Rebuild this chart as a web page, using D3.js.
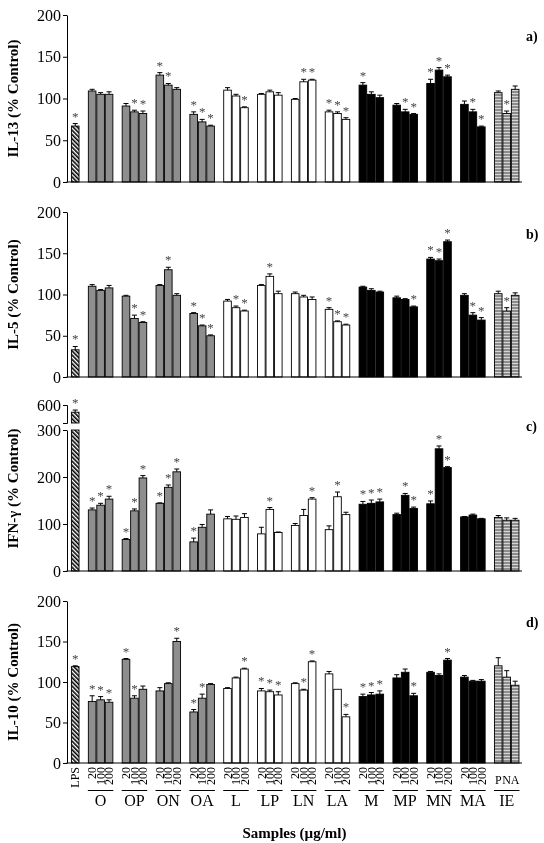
<!DOCTYPE html>
<html>
<head>
<meta charset="utf-8">
<script src="https://cdn.jsdelivr.net/npm/d3@7"></script>
<style>
body{margin:0;background:#fff;}
svg{filter:grayscale(1);}
text{font-family:"Liberation Serif","Times New Roman",serif;}
</style>
</head>
<body>
<div class="chart"></div>
<script>
//sample groups and doses
var groups = ["O","OP","ON","OA","L","LP","LN","LA","M","MP","MN","MA","IE"];
var doses = ["20","100","200"];
var ieParts = ["P","N","A"];

//values: LPS first, then 3 per group (20,100,200)
var il13 = [67, 109,105,105, 91,84,82, 128,116,111, 81,72,67, 110,103,89, 105,108,104, 99,120,122, 84,82,75, 116,105,101, 92,84,81, 118,134,126, 93,84,66, 107,82,111];
var il13Err = [3, 2,2,3, 3,2,3, 3,2,2, 3,3,1, 3,2,1, 1,2,3, 1,3,1, 2,2,2, 3,3,3, 2,3,1, 5,3,2, 4,3,1, 2,3,4];
var il13Star = [1, 0,0,0, 0,1,1, 1,1,0, 1,1,1, 0,0,1, 0,0,0, 0,1,1, 1,1,1, 1,0,0, 0,1,1, 1,1,1, 0,1,1, 0,1,0];

var il5 = [33, 110,105,108, 98,71,66, 111,130,99, 77,62,50, 92,84,80, 111,122,101, 101,97,94, 82,67,63, 109,105,103, 96,94,85, 143,141,164, 99,75,69, 101,80,99];
var il5Err = [4, 2,1,3, 1,4,1, 1,3,2, 1,1,1, 2,2,1, 1,3,3, 2,2,3, 2,1,1, 1,2,1, 2,1,1, 2,2,2, 2,3,3, 3,4,3];
var il5Star = [1, 0,0,0, 0,1,1, 0,1,0, 1,1,1, 0,1,1, 0,1,0, 0,0,0, 1,1,1, 0,0,0, 0,0,1, 1,1,1, 0,1,1, 0,1,0];

var ifn = [560, 130,140,153, 67,128,198, 144,178,211, 62,93,121, 111,110,114, 79,131,82, 97,118,153, 88,158,120, 142,144,147, 120,161,133, 143,260,220, 115,119,111, 114,108,108];
var ifnErr = [12, 4,4,6, 2,4,5, 1,5,6, 8,6,9, 5,7,8, 14,4,1, 4,13,3, 8,10,5, 6,7,6, 3,4,3, 6,6,2, 1,2,1, 4,5,4];
var ifnStar = [1, 1,1,1, 1,1,1, 1,1,1, 1,0,0, 0,0,0, 0,1,0, 0,0,1, 0,1,0, 1,1,1, 0,1,1, 1,1,1, 0,0,0, 0,0,0];

var il10 = [119, 76,78,75, 128,80,91, 89,98,150, 63,80,97, 92,105,116, 89,88,84, 98,90,125, 110,91,57, 82,84,85, 105,112,83, 112,108,127, 106,101,101, 120,106,96];
var il10Err = [1, 7,4,3, 1,3,4, 4,1,4, 3,5,1, 1,1,1, 3,2,4, 1,1,1, 3,0,3, 3,3,4, 4,4,3, 1,2,2, 2,1,2, 10,8,5];
var il10Star = [1, 1,1,1, 1,1,0, 0,0,1, 1,1,0, 0,0,1, 1,1,1, 0,1,1, 0,0,1, 1,1,1, 0,0,1, 0,0,1, 0,0,0, 0,0,0];

var ticks5 = [0,50,100,150,200];
var ifnTicks = [0,100,200,300];
var ifnTopTicks = [600];

var svg = d3.select(".chart").append("svg")
    .attr("width",544)
    .attr("height",843);

//patterns
var defs = svg.append("defs");
var hatch = defs.append("pattern").attr("id","hatch")
    .attr("patternUnits","userSpaceOnUse")
    .attr("width",3).attr("height",3)
    .attr("patternTransform","rotate(-45)");
hatch.append("rect").attr("width",3).attr("height",3).attr("fill","#fff");
hatch.append("line").attr("x1",0.8).attr("x2",0.8).attr("y1",0).attr("y2",3)
    .attr("stroke","#000").attr("stroke-width",1.6);
var ie = defs.append("pattern").attr("id","ie")
    .attr("patternUnits","userSpaceOnUse")
    .attr("width",4).attr("height",3);
ie.append("rect").attr("width",4).attr("height",3).attr("fill","#8c8c8c");
ie.append("line").attr("x1",0).attr("x2",4).attr("y1",0.5).attr("y2",0.5)
    .attr("stroke","#e8e8e8").attr("stroke-width",0.8);

//x band scale with spacer slots between groups
var keys = ["LPS","gap-lps"];
groups.forEach(function(g,i){
    doses.forEach(function(d){ keys.push(g+"-"+d); });
    if(i<groups.length-1) keys.push("gap-"+i);
});
var barKeys = ["LPS"];
groups.forEach(function(g){ doses.forEach(function(d){ barKeys.push(g+"-"+d); }); });

var x = d3.scaleBand().domain(keys).range([71,519.4]).paddingInner(0.1).paddingOuter(0.05);
var bw = x.bandwidth();
var axisLeft = 67, axisRight = 522;

function barFill(i){
    if(i==0) return "url(#hatch)";
    var g = Math.floor((i-1)/3);
    if(g<4) return "#8e8e8e";
    if(g<8) return "#fff";
    if(g<12) return "#000";
    return "url(#ie)";
}

var panels = [
    {title:"IL-13 (% Control)", label:"a)", vals:il13, err:il13Err, star:il13Star, y0:182, y1:15, labelY:41},
    {title:"IL-5 (% Control)", label:"b)", vals:il5, err:il5Err, star:il5Star, y0:377, y1:212, labelY:239},
    {title:"IFN-\u03b3 (% Control)", label:"c)", vals:ifn, err:ifnErr, star:ifnStar, y0:571, y1:406, labelY:431, broken:true},
    {title:"IL-10 (% Control)", label:"d)", vals:il10, err:il10Err, star:il10Star, y0:763, y1:601, labelY:627}
];

function styleAxis(g){
    g.selectAll("text").attr("font-size",16).attr("font-family","'Liberation Serif',serif").attr("fill","#000");
    g.selectAll("path,line").attr("stroke","#000");
}

panels.forEach(function(p){
    var chartGroup = svg.append("g");
    var y, yTop = null;
    if(p.broken){
        var lower = d3.scaleLinear().domain([0,300]).range([p.y0,430]);
        yTop = d3.scaleLinear().domain([500,600]).range([423,405]);
        y = function(v){ return v<=300 ? lower(v) : yTop(v); };
        chartGroup.append("g").attr("transform","translate("+axisLeft+",0)")
            .call(d3.axisLeft(lower).tickValues(ifnTicks).tickSize(4).tickSizeOuter(0).tickPadding(2))
            .call(styleAxis);
        chartGroup.append("g").attr("transform","translate("+axisLeft+",0)")
            .call(d3.axisLeft(yTop).tickValues(ifnTopTicks).tickSize(4).tickSizeOuter(4).tickPadding(2))
            .call(styleAxis);
    } else {
        y = d3.scaleLinear().domain([0,200]).range([p.y0,p.y1]);
        chartGroup.append("g").attr("transform","translate("+axisLeft+",0)")
            .call(d3.axisLeft(y).tickValues(ticks5).tickSize(4).tickSizeOuter(0).tickPadding(2))
            .call(styleAxis);
    }

    //bars
    var data = barKeys.map(function(k,i){
        return {key:k, v:p.vals[i], e:p.err[i], s:p.star[i], i:i};
    });
    data.forEach(function(d){
        var bx = x(d.key);
        var fill = barFill(d.i);
        if(p.broken && d.v>300){
            chartGroup.append("rect").attr("x",bx).attr("width",bw)
                .attr("y",y(300)).attr("height",p.y0-y(300))
                .attr("fill",fill).attr("stroke","#000").attr("stroke-width",0.9);
            chartGroup.append("rect").attr("x",bx).attr("width",bw)
                .attr("y",yTop(d.v)).attr("height",yTop(500)-yTop(d.v))
                .attr("fill",fill).attr("stroke","#000").attr("stroke-width",0.9);
        } else {
            chartGroup.append("rect").attr("x",bx).attr("width",bw)
                .attr("y",y(d.v)).attr("height",p.y0-y(d.v))
                .attr("fill",fill).attr("stroke","#000").attr("stroke-width",0.9);
        }
        //error bar
        var cx = bx+bw/2;
        var top = y(d.v+d.e);
        if(d.e>0){
            chartGroup.append("line").attr("x1",cx).attr("x2",cx)
                .attr("y1",y(d.v)).attr("y2",top).attr("stroke","#000").attr("stroke-width",1);
            chartGroup.append("line").attr("x1",cx-2.5).attr("x2",cx+2.5)
                .attr("y1",top).attr("y2",top).attr("stroke","#000").attr("stroke-width",1);
        }
        if(d.s){
            chartGroup.append("text").attr("x",cx).attr("y",top-3)
                .attr("text-anchor","middle").attr("font-size",13).attr("fill","#444")
                .text("*");
        }
    });

    //x axis line
    chartGroup.append("line").attr("x1",axisLeft-0.5).attr("x2",axisRight)
        .attr("y1",p.y0).attr("y2",p.y0).attr("stroke","#000").attr("stroke-width",1);

    //y title
    var midY = (p.y0+p.y1)/2;
    chartGroup.append("text")
        .attr("transform","translate(18,"+midY+") rotate(-90)")
        .attr("text-anchor","middle")
        .attr("font-size",15).attr("font-weight","bold")
        .text(p.title);

    //panel label
    chartGroup.append("text").attr("x",526).attr("y",p.labelY)
        .attr("font-size",14).attr("font-weight","bold").text(p.label);
});

//bottom labels under panel d
var bottom = svg.append("g");
var baseY = 767;
bottom.append("text")
    .attr("transform","translate("+(x("LPS")+bw/2)+","+baseY+") rotate(-90)")
    .attr("text-anchor","end").attr("dy","0.35em").attr("font-size",12).text("LPS");
groups.forEach(function(g,gi){
    var x0 = x(g+"-20"), x1 = x(g+"-200")+bw;
    if(gi<12){
        doses.forEach(function(d){
            bottom.append("text")
                .attr("transform","translate("+(x(g+"-"+d)+bw/2)+","+baseY+") rotate(-90)")
                .attr("text-anchor","end").attr("dy","0.35em").attr("font-size",12).text(d);
        });
    } else {
        doses.forEach(function(d,di){
            bottom.append("text").attr("x",x(g+"-"+d)+bw/2).attr("y",784)
                .attr("text-anchor","middle").attr("font-size",12).text(ieParts[di]);
        });
    }
    bottom.append("line").attr("x1",x0-0.5).attr("x2",x1+0.5).attr("y1",790.5).attr("y2",790.5)
        .attr("stroke","#000").attr("stroke-width",1);
    bottom.append("text").attr("x",(x0+x1)/2).attr("y",806)
        .attr("text-anchor","middle").attr("font-size",16).text(g);
});
bottom.append("text").attr("x",(axisLeft+axisRight)/2).attr("y",838)
    .attr("text-anchor","middle").attr("font-size",15).attr("font-weight","bold")
    .text("Samples (\u00b5g/ml)");
</script>
</body>
</html>
